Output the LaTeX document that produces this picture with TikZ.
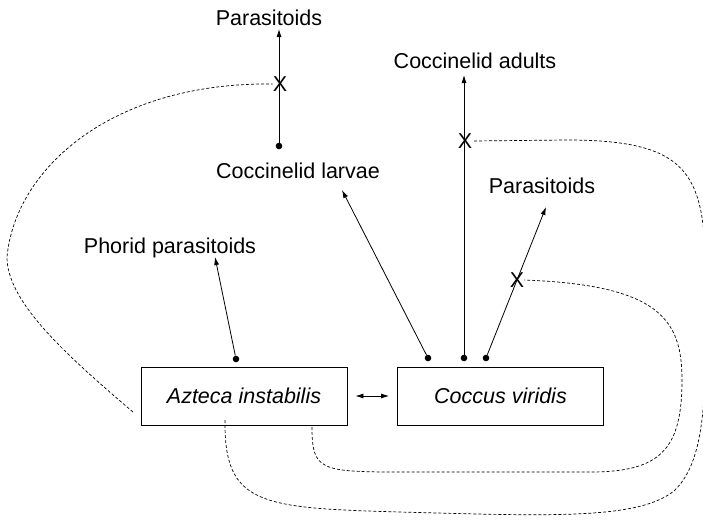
\documentclass[tikz,border=0pt]{standalone}
\usepackage{fontspec}
\setmainfont{Liberation Sans}
\usetikzlibrary{arrows.meta}

\begin{document}
\begin{tikzpicture}[x=1pt,y=-1pt,
  txt/.style={font=\fontsize{21.5}{24}\selectfont, inner sep=0pt, anchor=base},
  species/.style={draw, line width=0.8pt, minimum width=206pt, minimum height=58pt,
    inner sep=0pt, font=\fontsize{21.5}{24}\selectfont\itshape},
  dot/.style={circle, fill, inner sep=0pt, minimum size=6.6pt},
  xmark/.style={font=\fontsize{21.5}{24}\selectfont, inner sep=0pt},
  effect/.style={-{Latex[length=8pt,width=5pt]}, line width=0.8pt},
  interrupt/.style={line width=0.7pt, dash pattern=on 3pt off 2pt}]
  \useasboundingbox (0,0) rectangle (703,520);

  % the two species
  \node[species] (azteca) at (244,396) {Azteca instabilis};
  \node[species] (coccus) at (500.5,396) {Coccus viridis};
  \draw[{Latex[length=8pt,width=5pt]}-{Latex[length=8pt,width=5pt]}, line width=0.8pt,
    shorten <=8pt, shorten >=8pt] (azteca) -- (coccus);

  % enemies
  \node[txt] (partop) at (269,25) {Parasitoids};
  \node[txt] (larvae) at (298,178) {Coccinelid larvae};
  \node[txt] (adults) at (475,68) {Coccinelid adults};
  \node[txt] (parcoc) at (542,193) {Parasitoids};
  \node[txt] (phorid) at (170,253) {Phorid parasitoids};

  % arrow starts and tips
  \node[dot] (dotaz) at (236,359) {};
  \node[dot] (dotlar) at (279,146) {};
  \node[dot] (dotcl) at (428,358) {};
  \node[dot] (dotca) at (464,358) {};
  \node[dot] (dotcp) at (486,358) {};
  \coordinate (tipph) at (215,257);
  \coordinate (tiplar) at (279,29);
  \coordinate (tipcl) at (342,190);
  \coordinate (tipca) at (464,75);
  \coordinate (tipcp) at (546,207);

  \draw[effect] (dotaz) -- (tipph);
  \draw[effect] (dotlar) -- (tiplar);
  \draw[effect] (dotcl) -- (tipcl);
  \draw[effect] (dotca) -- (tipca);
  \draw[effect] (dotcp) -- (tipcp);

  % interrupted links
  \node[xmark] (xlar) at (280,84) {X};
  \node[xmark] (xca) at (465,141) {X};
  \node[xmark] (xcp) at (517,280) {X};
  \coordinate (azl) at (133,412);
  \coordinate (azr) at (225,420);
  \coordinate (azm) at (312,427);

  \draw[interrupt] (azl) .. controls (60,350) and (7,300) .. (7,257)
    .. controls (15,170) and (110,82) .. (xlar.west);
  \draw[interrupt] (azr) .. controls (224,505) and (260,508) .. (400,512)
    .. controls (550,516) and (640,520) .. (675,490)
    .. controls (705,460) and (706,400) .. (706,300)
    .. controls (706,180) and (700,140) .. (567,140) -- (xca.east);
  \draw[interrupt] (azm) .. controls (312,470) and (320,472) .. (400,472) -- (590,472)
    .. controls (660,472) and (682,450) .. (682,380)
    .. controls (682,320) and (660,285) .. (xcp.east);
\end{tikzpicture}
\end{document}
